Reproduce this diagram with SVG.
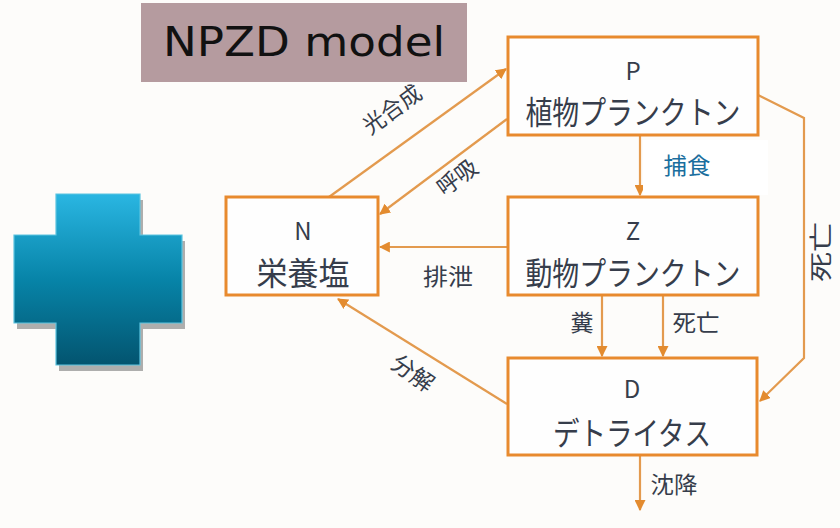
<svg xmlns="http://www.w3.org/2000/svg" width="840" height="528" viewBox="0 0 840 528">
<defs>
<linearGradient id="gCross" x1="0" y1="0" x2="0" y2="1">
<stop offset="0" stop-color="#2ab6e2"/>
<stop offset="0.5" stop-color="#0784a8"/>
<stop offset="1" stop-color="#03546f"/>
</linearGradient>
<marker id="arr" viewBox="0 0 10 10" refX="9" refY="5" markerWidth="5" markerHeight="5" orient="auto" markerUnits="strokeWidth">
<path d="M0,0 L10,5 L0,10 z" fill="#e38b2f"/>
</marker>
<style>
.box{fill:#fefefe;stroke:#e88a2e;stroke-width:3}
.ln{fill:none;stroke:#e39a4e;stroke-width:2.2;marker-end:url(#arr)}
.jp{font-family:"Noto Sans CJK JP","Noto Sans",sans-serif;fill:#363d4b;text-anchor:middle}
.big{font-size:32px}
.ltr{font-size:24px}
.lbl{font-size:23px}
</style>
</defs>
<rect width="840" height="528" fill="#fdfcfa"/>
<g id="title">
<rect x="141" y="3" width="326" height="79" fill="#b59b9f"/>
<text x="163" y="56" font-family="DejaVu Sans, Verdana, sans-serif" font-size="41" fill="#111" textLength="282" lengthAdjust="spacingAndGlyphs">NPZD model</text>
</g>
<g id="cross">
<path d="M59,200 h84 v41 h42 v88 h-42 v42 h-84 v-42 h-42 v-88 h42 z" fill="#9a9a9a" opacity="0.8"/>
<path d="M56,194 h84 v41 h42 v88 h-42 v42 h-84 v-42 h-42 v-88 h42 z" fill="url(#gCross)" stroke="#5cc4e0" stroke-width="1.2"/>
</g>
<g id="connectors">
<line class="ln" x1="329" y1="197" x2="506" y2="69"/>
<line class="ln" x1="507" y1="119" x2="380" y2="214"/>
<line class="ln" x1="640" y1="135" x2="640" y2="195"/>
<line class="ln" x1="508" y1="247" x2="380" y2="247"/>
<line class="ln" x1="602" y1="295" x2="602" y2="356"/>
<line class="ln" x1="663" y1="295" x2="663" y2="356"/>
<polyline class="ln" points="758,95 804,118 804,358 760,401"/>
<line class="ln" x1="507" y1="404" x2="338" y2="299"/>
<line class="ln" x1="640" y1="455" x2="640" y2="510"/>
</g>
<g id="labels">
<rect x="643" y="140" width="125" height="55" fill="#ffffff"/>
<text class="jp lbl" transform="translate(397,116) rotate(-36)" textLength="66" lengthAdjust="spacingAndGlyphs">光合成</text>
<text class="jp lbl" transform="translate(462,184) rotate(-36)" textLength="44" lengthAdjust="spacingAndGlyphs">呼吸</text>
<text class="jp lbl" x="687" y="174" style="fill:#1a6e9e" textLength="47" lengthAdjust="spacingAndGlyphs">捕食</text>
<text class="jp lbl" x="448" y="285" textLength="50" lengthAdjust="spacingAndGlyphs">排泄</text>
<text class="jp lbl" x="582" y="331" textLength="23" lengthAdjust="spacingAndGlyphs">糞</text>
<text class="jp lbl" x="696" y="331" textLength="47" lengthAdjust="spacingAndGlyphs">死亡</text>
<text class="jp lbl" transform="translate(829,252) rotate(-90)" textLength="60" lengthAdjust="spacingAndGlyphs">死亡</text>
<text class="jp lbl" transform="translate(408,380) rotate(35)" textLength="46" lengthAdjust="spacingAndGlyphs">分解</text>
<text class="jp lbl" x="674" y="493" textLength="47" lengthAdjust="spacingAndGlyphs">沈降</text>
</g>
<g id="nodeP">
<rect class="box" x="508" y="37" width="250" height="98"/>
<text class="jp ltr" x="633" y="80">P</text>
<text class="jp big" x="633" y="124" textLength="215" lengthAdjust="spacingAndGlyphs">植物プランクトン</text>
</g>
<g id="nodeZ">
<rect class="box" x="508" y="197" width="250" height="98"/>
<text class="jp ltr" x="633" y="240">Z</text>
<text class="jp big" x="633" y="285" textLength="215" lengthAdjust="spacingAndGlyphs">動物プランクトン</text>
</g>
<g id="nodeN">
<rect class="box" x="226" y="197" width="152" height="98"/>
<text class="jp ltr" x="303" y="240">N</text>
<text class="jp big" x="303" y="285" textLength="93" lengthAdjust="spacingAndGlyphs">栄養塩</text>
</g>
<g id="nodeD">
<rect class="box" x="508" y="358" width="249" height="97"/>
<text class="jp ltr" x="632" y="398">D</text>
<text class="jp big" x="632" y="445" textLength="158" lengthAdjust="spacingAndGlyphs">デトライタス</text>
</g>
</svg>
